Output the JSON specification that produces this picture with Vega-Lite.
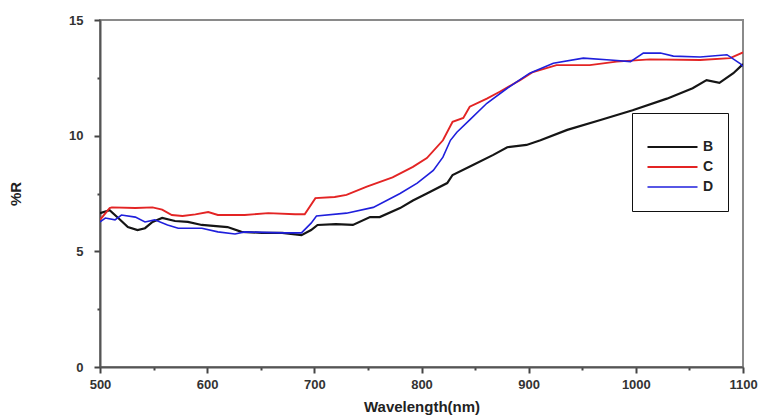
{
  "$schema": "https://vega.github.io/schema/vega-lite/v6.json",
  "width": 643,
  "height": 347,
  "autosize": {"type": "none"},
  "padding": {"left": 100, "top": 20, "right": 15, "bottom": 48},
  "background": "white",
  "config": {
    "view": {"stroke": "#8a8a8a", "strokeWidth": 2},
    "font": "Liberation Sans"
  },
  "data": {
    "values": [
      {"s": "B", "wl": 500, "r": 6.65},
      {"s": "B", "wl": 509, "r": 6.78},
      {"s": "B", "wl": 517, "r": 6.44},
      {"s": "B", "wl": 526, "r": 6.05},
      {"s": "B", "wl": 535, "r": 5.92},
      {"s": "B", "wl": 542, "r": 6.0},
      {"s": "B", "wl": 549, "r": 6.27},
      {"s": "B", "wl": 558, "r": 6.44},
      {"s": "B", "wl": 570, "r": 6.31},
      {"s": "B", "wl": 582, "r": 6.27},
      {"s": "B", "wl": 595, "r": 6.14},
      {"s": "B", "wl": 619, "r": 6.05},
      {"s": "B", "wl": 632, "r": 5.84},
      {"s": "B", "wl": 651, "r": 5.8},
      {"s": "B", "wl": 670, "r": 5.8},
      {"s": "B", "wl": 688, "r": 5.7},
      {"s": "B", "wl": 697, "r": 5.92},
      {"s": "B", "wl": 703, "r": 6.14},
      {"s": "B", "wl": 720, "r": 6.18},
      {"s": "B", "wl": 736, "r": 6.14},
      {"s": "B", "wl": 752, "r": 6.48},
      {"s": "B", "wl": 761, "r": 6.48},
      {"s": "B", "wl": 780, "r": 6.87},
      {"s": "B", "wl": 792, "r": 7.2},
      {"s": "B", "wl": 805, "r": 7.5},
      {"s": "B", "wl": 824, "r": 7.95},
      {"s": "B", "wl": 829, "r": 8.3},
      {"s": "B", "wl": 848, "r": 8.73},
      {"s": "B", "wl": 867, "r": 9.17},
      {"s": "B", "wl": 880, "r": 9.5},
      {"s": "B", "wl": 898, "r": 9.6},
      {"s": "B", "wl": 911, "r": 9.8},
      {"s": "B", "wl": 936, "r": 10.25},
      {"s": "B", "wl": 967, "r": 10.68},
      {"s": "B", "wl": 997, "r": 11.1},
      {"s": "B", "wl": 1029, "r": 11.6},
      {"s": "B", "wl": 1053, "r": 12.05},
      {"s": "B", "wl": 1066, "r": 12.4},
      {"s": "B", "wl": 1078, "r": 12.28},
      {"s": "B", "wl": 1091, "r": 12.7},
      {"s": "B", "wl": 1099, "r": 13.05},
      {"s": "B", "wl": 1100, "r": 13.1},
      {"s": "C", "wl": 500, "r": 6.36},
      {"s": "C", "wl": 509, "r": 6.87},
      {"s": "C", "wl": 511, "r": 6.9},
      {"s": "C", "wl": 533, "r": 6.87},
      {"s": "C", "wl": 549, "r": 6.9},
      {"s": "C", "wl": 558, "r": 6.8},
      {"s": "C", "wl": 567, "r": 6.57},
      {"s": "C", "wl": 577, "r": 6.53},
      {"s": "C", "wl": 589, "r": 6.6},
      {"s": "C", "wl": 601, "r": 6.7},
      {"s": "C", "wl": 610, "r": 6.57},
      {"s": "C", "wl": 635, "r": 6.57},
      {"s": "C", "wl": 657, "r": 6.65},
      {"s": "C", "wl": 682, "r": 6.6},
      {"s": "C", "wl": 691, "r": 6.6},
      {"s": "C", "wl": 701, "r": 7.3},
      {"s": "C", "wl": 719, "r": 7.35},
      {"s": "C", "wl": 730, "r": 7.44},
      {"s": "C", "wl": 749, "r": 7.8},
      {"s": "C", "wl": 773, "r": 8.2},
      {"s": "C", "wl": 792, "r": 8.65},
      {"s": "C", "wl": 805, "r": 9.03},
      {"s": "C", "wl": 820, "r": 9.8},
      {"s": "C", "wl": 829, "r": 10.6},
      {"s": "C", "wl": 839, "r": 10.77},
      {"s": "C", "wl": 845, "r": 11.25},
      {"s": "C", "wl": 861, "r": 11.6},
      {"s": "C", "wl": 873, "r": 11.9},
      {"s": "C", "wl": 892, "r": 12.4},
      {"s": "C", "wl": 904, "r": 12.75},
      {"s": "C", "wl": 926, "r": 13.05},
      {"s": "C", "wl": 957, "r": 13.05},
      {"s": "C", "wl": 982, "r": 13.2},
      {"s": "C", "wl": 1013, "r": 13.3},
      {"s": "C", "wl": 1060, "r": 13.27},
      {"s": "C", "wl": 1088, "r": 13.35},
      {"s": "C", "wl": 1100, "r": 13.6},
      {"s": "D", "wl": 500, "r": 6.27},
      {"s": "D", "wl": 505, "r": 6.44},
      {"s": "D", "wl": 514, "r": 6.36},
      {"s": "D", "wl": 520, "r": 6.57},
      {"s": "D", "wl": 533, "r": 6.48},
      {"s": "D", "wl": 542, "r": 6.27},
      {"s": "D", "wl": 551, "r": 6.36},
      {"s": "D", "wl": 563, "r": 6.14},
      {"s": "D", "wl": 573, "r": 6.0},
      {"s": "D", "wl": 595, "r": 6.0},
      {"s": "D", "wl": 610, "r": 5.84},
      {"s": "D", "wl": 626, "r": 5.75},
      {"s": "D", "wl": 635, "r": 5.84},
      {"s": "D", "wl": 670, "r": 5.8},
      {"s": "D", "wl": 688, "r": 5.8},
      {"s": "D", "wl": 697, "r": 6.22},
      {"s": "D", "wl": 702, "r": 6.53},
      {"s": "D", "wl": 730, "r": 6.65},
      {"s": "D", "wl": 755, "r": 6.9},
      {"s": "D", "wl": 780, "r": 7.5},
      {"s": "D", "wl": 796, "r": 7.95},
      {"s": "D", "wl": 811, "r": 8.5},
      {"s": "D", "wl": 820, "r": 9.07},
      {"s": "D", "wl": 827, "r": 9.8},
      {"s": "D", "wl": 833, "r": 10.15},
      {"s": "D", "wl": 845, "r": 10.68},
      {"s": "D", "wl": 861, "r": 11.4},
      {"s": "D", "wl": 880, "r": 12.05},
      {"s": "D", "wl": 901, "r": 12.7},
      {"s": "D", "wl": 923, "r": 13.13},
      {"s": "D", "wl": 951, "r": 13.35},
      {"s": "D", "wl": 976, "r": 13.27},
      {"s": "D", "wl": 995, "r": 13.2},
      {"s": "D", "wl": 1007, "r": 13.57},
      {"s": "D", "wl": 1023, "r": 13.57},
      {"s": "D", "wl": 1035, "r": 13.44},
      {"s": "D", "wl": 1060, "r": 13.4},
      {"s": "D", "wl": 1085, "r": 13.5},
      {"s": "D", "wl": 1097, "r": 13.13},
      {"s": "D", "wl": 1100, "r": 13.0}
    ]
  },
  "mark": {"type": "line", "clip": true},
  "encoding": {
    "x": {
      "field": "wl", "type": "quantitative",
      "scale": {"domain": [500, 1100], "nice": false, "zero": false},
      "axis": {
        "orient": "bottom",
        "values": [500, 550, 600, 650, 700, 750, 800, 850, 900, 950, 1000, 1050, 1100],
        "format": "d",
        "labelExpr": "datum.value % 100 === 0 ? datum.label : ''",
        "title": "Wavelength(nm)",
        "titleFont": "Liberation Sans", "titleFontSize": 15, "titleFontWeight": "bold",
        "titleColor": "#222", "titlePadding": 8,
        "labelFont": "Liberation Sans", "labelFontSize": 13, "labelFontWeight": "bold",
        "labelColor": "#333", "labelPadding": 5, "labelFlush": false, "labelOverlap": false,
        "grid": false, "domainColor": "#555", "domainWidth": 2,
        "tickColor": "#444", "tickWidth": 2,
        "tickSize": {"condition": {"test": "datum.value % 100 === 0", "value": 6}, "value": 3}
      }
    },
    "y": {
      "field": "r", "type": "quantitative",
      "scale": {"domain": [0, 15], "nice": false, "zero": false},
      "axis": {
        "orient": "left",
        "values": [0, 2.5, 5, 7.5, 10, 12.5, 15],
        "labelExpr": "datum.value % 5 === 0 ? datum.label : ''",
        "title": "%R",
        "titleFont": "Liberation Sans", "titleFontSize": 15, "titleFontWeight": "bold",
        "titleColor": "#222", "titlePadding": 45,
        "labelFont": "Liberation Sans", "labelFontSize": 13, "labelFontWeight": "bold",
        "labelColor": "#333", "labelPadding": 11, "labelOverlap": false,
        "grid": false, "domainColor": "#555", "domainWidth": 2,
        "tickColor": "#444", "tickWidth": 2,
        "tickSize": {"condition": {"test": "datum.value % 5 === 0", "value": 6}, "value": 3}
      }
    },
    "color": {
      "field": "s", "type": "nominal",
      "scale": {"domain": ["B", "C", "D"], "range": ["#151515", "#e32424", "#1f1fdc"]},
      "legend": {
        "title": " ",
        "titleFontSize": 10,
        "titlePadding": 0,
        "orient": "none",
        "legendX": 532,
        "legendY": 93,
        "strokeColor": "#111",
        "fillColor": "white",
        "padding": 14,
        "symbolType": "stroke",
        "symbolSize": 2500,
        "symbolOffset": 0,
        "clipHeight": 20,
        "labelFont": "Liberation Sans",
        "labelFontSize": 14,
        "labelFontWeight": "bold",
        "labelColor": "#222",
        "labelOffset": 4,
        "rowPadding": 0
      }
    },
    "strokeWidth": {
      "field": "s", "type": "nominal",
      "scale": {"domain": ["B", "C", "D"], "range": [2.2, 1.6, 2.6]},
      "legend": {
        "title": " ",
        "orient": "none",
        "legendX": 532,
        "legendY": 93
      }
    }
  }
}
